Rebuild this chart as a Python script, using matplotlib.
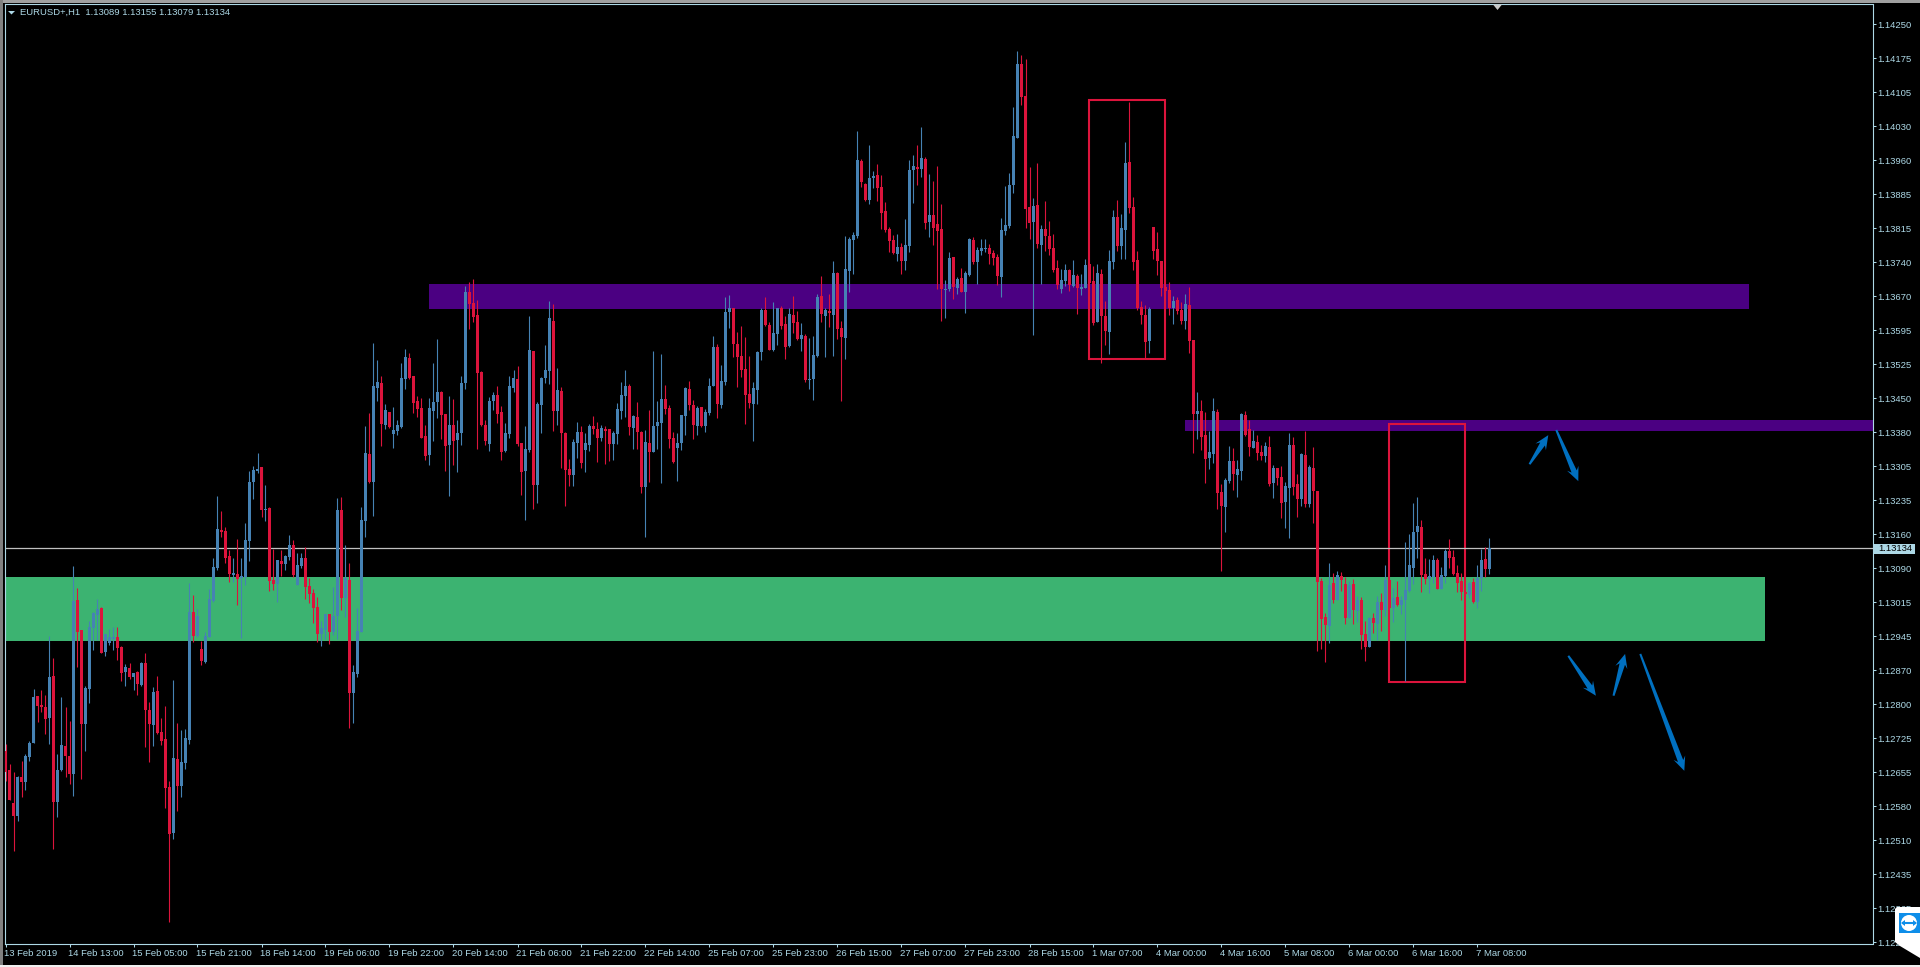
import numpy as np
import matplotlib
matplotlib.use("Agg")
import matplotlib.pyplot as plt
from matplotlib.patches import Rectangle, Polygon, Circle
from matplotlib.transforms import IdentityTransform

# Prices are in points (1e-5) above 1.12000
highs_pts = [
717,675,658,648,681,696,723,834,820,832,
822,947,900,696,817,796,766,1096,1050,960,
841,979,998,1026,1009,952,962,966,966,926,
888,890,868,873,892,911,807,839,862,773,
798,638,854,762,747,749,1060,1035,1005,937,
956,1047,1113,1246,1214,1179,1130,1113,1154,1113,
1188,1299,1309,1337,1307,1269,1222,1133,1109,1130,
1120,1162,1152,1124,1124,1137,1071,1047,1030,979,
994,994,1052,1241,1243,1141,1103,886,1007,1222,
1395,1422,1572,1535,1501,1442,1425,1435,1407,1529,
1559,1550,1501,1459,1454,1397,1454,1529,1580,1469,
1420,1459,1452,1407,1501,1693,1701,1708,1663,1512,
1407,1456,1467,1480,1437,1401,1501,1514,1523,1358,
1395,1629,1554,1446,1499,1567,1661,1655,1518,1478,
1382,1324,1367,1403,1395,1380,1399,1416,1403,1397,
1395,1388,1384,1444,1488,1514,1484,1418,1446,1384,
1386,1429,1554,1448,1548,1482,1439,1382,1380,1418,
1478,1491,1450,1437,1435,1431,1497,1586,1569,1525,
1669,1674,1646,1595,1608,1584,1544,1488,1554,1646,
1669,1616,1659,1646,1650,1629,1646,1672,1640,1614,
1591,1582,1587,1676,1714,1646,1676,1746,1723,1619,
1800,1798,1808,2023,1964,1912,1993,1938,1953,1930,
1872,1819,1802,1804,1785,1836,1962,1972,1993,2032,
1968,1932,1917,1949,1868,1706,1766,1755,1712,1731,
1725,1795,1797,1776,1793,1793,1782,1769,1761,1838,
1906,1933,2074,2193,2185,2176,1946,1880,1955,1823,
1874,1831,1803,1748,1729,1740,1729,1748,1718,1718,
1750,1740,1735,1740,1729,1661,1769,1855,1876,1846,
1999,2085,1882,1767,1661,1652,1648,1818,1808,1746,
1691,1701,1671,1669,1659,1676,1691,1577,1467,1450,
1424,1384,1454,1430,1271,1283,1352,1347,1322,1422,
1426,1407,1386,1375,1354,1360,1373,1311,1305,1309,
1275,1379,1371,1292,1337,1384,1311,1349,1256,1071,
996,1103,1082,1086,1084,1073,1064,1069,1033,1030,
979,988,996,1033,1039,1099,1067,1050,1064,1033,
1148,1165,1231,1243,1194,1113,1111,1120,1113,1094,
1133,1154,1130,1099,1082,1041,1062,1071,1099,1133,
1137,1156]

body_top_pts = [
703,662,592,646,646,692,719,818,820,800,
796,860,862,662,715,713,692,1022,1024,960,
837,966,996,1005,1007,952,945,945,945,924,
881,879,868,871,890,890,790,828,830,743,
728,626,687,685,679,730,998,998,990,920,
947,1026,1094,1175,1173,1171,1118,1082,1079,1075,
1152,1275,1301,1303,1307,1218,1220,1067,1109,1107,
1118,1141,1141,1099,1113,1113,1054,1039,1009,964,
994,994,990,1216,1216,1071,1067,871,958,1194,
1337,1335,1480,1488,1486,1429,1425,1386,1397,1497,
1542,1540,1501,1448,1433,1373,1433,1446,1467,1467,
1420,1397,1397,1380,1486,1680,1680,1657,1631,1510,
1397,1448,1461,1461,1425,1380,1480,1497,1495,1358,
1346,1557,1554,1442,1497,1514,1625,1618,1471,1469,
1380,1303,1361,1382,1382,1358,1395,1395,1388,1390,
1388,1388,1380,1431,1461,1480,1480,1416,1414,1382,
1361,1358,1395,1403,1452,1452,1433,1369,1358,1418,
1476,1474,1439,1433,1435,1425,1480,1563,1563,1491,
1638,1646,1646,1569,1544,1516,1463,1476,1552,1642,
1642,1610,1593,1646,1646,1612,1633,1631,1616,1589,
1587,1495,1546,1670,1672,1642,1640,1721,1721,1604,
1729,1793,1802,1962,1959,1910,1923,1927,1930,1904,
1853,1815,1791,1776,1776,1780,1940,1949,1947,1966,
1964,1844,1844,1825,1815,1687,1753,1755,1708,1710,
1721,1793,1791,1769,1774,1774,1774,1763,1754,1812,
1823,1908,2012,2166,2166,2097,1861,1863,1865,1814,
1814,1799,1774,1731,1706,1727,1727,1716,1714,1691,
1737,1740,1703,1720,1718,1629,1746,1840,1840,1816,
1955,1957,1861,1748,1648,1631,1644,1818,1772,1746,
1691,1684,1661,1663,1642,1654,1652,1577,1426,1426,
1375,1339,1426,1424,1254,1279,1320,1320,1303,1420,
1418,1388,1362,1360,1339,1352,1349,1305,1305,1286,
1266,1354,1354,1271,1335,1332,1307,1305,1256,1064,
988,1056,1060,1077,1075,1058,1056,1058,1024,1024,
952,986,986,1020,1020,1067,1067,1028,1030,1024,
1045,1099,1169,1182,1180,1079,1075,1109,1109,1077,
1128,1128,1116,1082,1064,1041,1060,1062,1071,1109,
1111,1134]

body_bottom_pts = [
658,598,564,564,636,636,690,719,798,796,
771,773,594,594,662,692,653,653,956,760,
760,834,964,992,911,913,932,941,922,868,
871,860,860,845,843,790,760,758,741,724,
624,526,528,628,628,677,726,947,947,894,
891,945,1022,1092,1169,1113,1079,1077,1069,1071,
1073,1150,1275,1299,1216,1216,1064,1058,1058,1101,
1101,1116,1077,1056,1096,1052,1037,1007,952,952,
960,956,956,990,1028,1028,826,826,866,956,
1192,1275,1275,1476,1399,1397,1393,1378,1384,1393,
1495,1497,1444,1431,1369,1331,1333,1427,1446,1418,
1352,1354,1363,1365,1380,1486,1655,1627,1508,1397,
1363,1356,1448,1420,1339,1341,1378,1476,1356,1297,
1299,1344,1269,1269,1439,1497,1512,1427,1427,1380,
1301,1290,1290,1358,1316,1344,1354,1388,1369,1369,
1384,1356,1356,1378,1427,1459,1393,1390,1382,1265,
1265,1339,1339,1395,1401,1431,1367,1318,1348,1358,
1416,1439,1397,1395,1395,1395,1422,1480,1442,1439,
1488,1638,1569,1542,1514,1461,1444,1442,1471,1552,
1610,1557,1557,1591,1608,1563,1565,1614,1580,1580,
1493,1493,1495,1544,1633,1629,1636,1631,1602,1584,
1582,1725,1791,1800,1915,1876,1876,1923,1902,1849,
1812,1789,1763,1761,1746,1746,1778,1940,1942,1942,
1827,1829,1817,1810,1687,1685,1687,1691,1689,1680,
1680,1716,1744,1744,1767,1772,1761,1752,1714,1712,
1810,1821,1908,2008,2095,1857,1827,1829,1782,1780,
1799,1772,1727,1695,1686,1703,1695,1693,1688,1686,
1688,1699,1614,1616,1629,1597,1595,1744,1778,1778,
1812,1859,1744,1646,1631,1573,1576,1767,1746,1688,
1682,1646,1646,1639,1618,1618,1576,1420,1420,1371,
1324,1326,1335,1252,1224,1222,1277,1292,1290,1298,
1375,1349,1347,1337,1330,1330,1271,1273,1283,1230,
1232,1262,1264,1239,1239,1228,1228,1256,1062,984,
971,969,1024,1024,1067,986,986,1003,1001,949,
924,924,975,973,1003,1003,1007,1007,1013,1013,
1024,1043,1092,1169,1077,1069,1069,1073,1047,1047,
1075,1113,1079,1060,1041,1037,1035,1020,1020,1071,
1090,1089]

lows_pts = [
638,598,490,553,604,619,681,719,764,785,
739,717,494,562,660,647,632,607,881,643,
702,805,917,939,911,905,928,917,896,851,
841,856,832,822,841,711,679,713,739,715,
581,338,515,575,604,664,717,935,945,886,
890,945,1020,1088,1158,1103,1062,1062,1013,943,
1056,1107,1239,1294,1201,1192,1043,1045,1020,1075,
1088,1109,1073,1056,1092,1026,1018,975,935,926,
941,930,949,941,1003,988,751,762,860,956,
1158,1273,1203,1448,1352,1388,1390,1348,1376,1390,
1474,1495,1422,1414,1369,1322,1312,1363,1412,1367,
1299,1246,1312,1297,1354,1474,1601,1616,1346,1395,
1354,1341,1429,1401,1322,1339,1369,1467,1352,1248,
1194,1339,1218,1231,1380,1486,1484,1384,1397,1305,
1224,1267,1267,1327,1305,1297,1341,1378,1318,1363,
1314,1320,1322,1356,1410,1414,1376,1346,1346,1252,
1158,1275,1339,1346,1273,1420,1348,1316,1278,1344,
1376,1429,1367,1376,1393,1382,1418,1480,1412,1433,
1482,1603,1542,1478,1499,1399,1433,1363,1442,1535,
1608,1557,1554,1567,1601,1538,1563,1593,1578,1555,
1489,1474,1450,1542,1616,1542,1606,1544,1580,1448,
1538,1680,1719,1795,1904,1874,1868,1902,1874,1815,
1808,1766,1761,1746,1719,1727,1766,1870,1908,1925,
1815,1798,1780,1687,1619,1625,1682,1665,1676,1680,
1636,1714,1740,1697,1759,1765,1740,1737,1695,1669,
1801,1816,1891,2008,2078,1816,1793,1588,1774,1697,
1767,1759,1723,1686,1678,1693,1682,1691,1633,1674,
1688,1699,1610,1616,1529,1567,1548,1729,1767,1750,
1750,1848,1727,1642,1612,1537,1550,1750,1716,1671,
1677,1631,1612,1633,1612,1601,1550,1337,1367,1343,
1273,1303,1315,1217,1085,1168,1273,1258,1243,1279,
1373,1330,1347,1322,1322,1318,1266,1241,1269,1198,
1177,1156,1247,1200,1224,1222,1222,1188,915,920,
892,932,1018,1024,1043,973,986,973,977,920,
894,924,954,939,958,990,1007,977,1011,994,
851,1041,1058,1113,1041,1058,1039,1060,1047,1047,
1060,1092,1077,1041,1024,1037,1028,1018,1007,1043,
1073,1079]

# B = bullish candle, R = bearish candle
directions = (
"RRRBRBBBRR" "RBRBBRRBRR" "BBBBRBBBRR" "BRBRBRRBRR" "RRBRBBBRBR"
"BBBBRRRBRB" "BBBBRBRRBR" "BBRBBRRRRB" "BRBBRBRBBB" "BRBBRBRBBB"
"BRRRRRBBBR" "RBRBBBRRRR" "RBBRRBBBRR" "BBRBBBBRBR" "RRBBRBBRRB"
"RRBBBBRBRR" "BRBBBRRRBB" "BRRBRBBBRB" "BBRRRRRBBB" "RRBBRRBRRB"
"RBBBRBRBRR" "BBBBRRBBRR" "RRRBRBBBRB" "RBRRRBBRBR" "BBRBBBRRRB"
"BBBBRRRBRB" "RRRRBBRBRB" "BRRBRRBBRB" "BRRRRRBRRR" "RRBRRBRRBR"
"RBBRRBBRBB" "RRBRRBRBRR" "BBRRBRBRRR" "RBRBRRBRBR" "RBRBRBRBRB"
"BBBBRRBBRB" "BRRRRRBRBB" "RB")

time_labels = ["13 Feb 2019", "14 Feb 13:00", "15 Feb 05:00", "15 Feb 21:00",
               "18 Feb 14:00", "19 Feb 06:00", "19 Feb 22:00", "20 Feb 14:00",
               "21 Feb 06:00", "21 Feb 22:00", "22 Feb 14:00", "25 Feb 07:00",
               "25 Feb 23:00", "26 Feb 15:00", "27 Feb 07:00", "27 Feb 23:00",
               "28 Feb 15:00", "1 Mar 07:00", "4 Mar 00:00", "4 Mar 16:00",
               "5 Mar 08:00", "6 Mar 00:00", "6 Mar 16:00", "7 Mar 08:00"]
bars_per_label = 16

price_labels = ["1.14250", "1.14175", "1.14105", "1.14030", "1.13960", "1.13885",
                "1.13815", "1.13740", "1.13670", "1.13595", "1.13525", "1.13450",
                "1.13380", "1.13305", "1.13235", "1.13160", "1.13090", "1.13015",
                "1.12945", "1.12870", "1.12800", "1.12725", "1.12655", "1.12580",
                "1.12510", "1.12435", "1.12365", "1.12295"]

last_price = 1.13134
header = "EURUSD+,H1  1.13089 1.13155 1.13079 1.13134"

# (first bar, last bar, low price, high price)
purple_zones = [(105.9, 435.9, 1.13644, 1.13697), (294.9, 467.0, 1.13383, 1.13407)]
green_zones = [(-0.5, 439.9, 1.12937, 1.13073)]
red_boxes = [(270.9, 290.0, 1.13537, 1.14089), (345.9, 364.9, 1.12849, 1.13399)]
# (tail bar, tail price, head bar, head price)
arrows = [(381.0, 1.13313, 385.7, 1.13375), (387.7, 1.13386, 393.2, 1.13277),
          (390.7, 1.12905, 397.6, 1.12820), (402.0, 1.12820, 404.9, 1.12909),
          (408.7, 1.12909, 419.7, 1.12660)]

LB = "#ADD8E6"
BLUE = "#4682B4"
RED = "#DC143C"
W, H = 1920, 967

assert len(highs_pts) == len(lows_pts) == len(body_top_pts) == len(body_bottom_pts) == len(directions) == 372

highs = 1.12 + np.array(highs_pts) / 1e5
lows = 1.12 + np.array(lows_pts) / 1e5
tops = 1.12 + np.array(body_top_pts) / 1e5
bottoms = 1.12 + np.array(body_bottom_pts) / 1e5
up = np.array([c == "B" for c in directions])
opens = np.where(up, bottoms, tops)
closes = np.where(up, tops, bottoms)
bars = np.arange(len(highs))
colors = [BLUE if u else RED for u in up]

plt.rcParams["font.family"] = ["Liberation Sans", "DejaVu Sans"]
fig = plt.figure(figsize=(W / 100, H / 100), dpi=100, facecolor="black")
L, R, T, B = 4.7, 1872.5, 4.3, 944.3
ax = fig.add_axes([L / W, 1 - B / H, (R - L) / W, (B - T) / H], facecolor="black")
ax.set_xlim((L - 5.5) / 4, (R - 5.5) / 4)
ax.set_ylim(1.12 + 290.5 / 1e5, 1.12 + 2292.7 / 1e5)

for x0, x1, y0, y1 in green_zones:
    ax.add_patch(Rectangle((x0, y0), x1 - x0, y1 - y0, color="#3CB371", lw=0, zorder=1))
for x0, x1, y0, y1 in purple_zones:
    ax.add_patch(Rectangle((x0, y0), x1 - x0, y1 - y0, color="#4B0082", lw=0, zorder=1))
for x0, x1, y0, y1 in red_boxes:
    ax.add_patch(Rectangle((x0, y0), x1 - x0, y1 - y0, fill=False, ec=RED, lw=1.5, zorder=2))

ax.axhline(last_price, color="#C0C0C0", lw=0.9, zorder=2.5)
ax.vlines(bars, lows, highs, colors=colors, lw=0.8, zorder=3)
ax.bar(bars, np.abs(closes - opens), bottom=np.minimum(opens, closes), width=0.75,
       color=colors, linewidth=0, antialiased=False, zorder=4)

tick_values = [1.1425 + (1.12295 - 1.1425) * k / 27 for k in range(len(price_labels))]
ax.yaxis.tick_right()
ax.set_yticks(tick_values, price_labels)
ax.set_xticks(bars_per_label * np.arange(len(time_labels)), [""] * len(time_labels))
ax.tick_params(axis="y", colors=LB, length=2.5, width=0.75, labelsize=6.8, pad=1.2)
ax.tick_params(axis="x", colors=LB, length=2.5, width=0.75)
for s in ax.spines.values():
    s.set_color(LB)
    s.set_linewidth(0.8)

for k, lab in enumerate(time_labels):
    x = ax.transData.transform((bars_per_label * k, 0))[0]
    fig.text((x - 1) / W, 1 - 953.7 / H, lab, color=LB, fontsize=6.8, ha="left", va="center")

fig.canvas.draw()
for tx, ty, hx, hy in arrows:
    p0 = ax.transData.transform((tx, ty))
    p1 = ax.transData.transform((hx, hy))
    d = p1 - p0
    length = np.hypot(*d)
    u_vec = d / length
    n_vec = np.array([-u_vec[1], u_vec[0]])
    head = 14.0
    neck = p1 - u_vec * (head * 0.75)
    barb = p1 - u_vec * head
    pts = [p0 + n_vec * 1.0, neck + n_vec * 2.8, barb + n_vec * 6.2, p1,
           barb - n_vec * 6.2, neck - n_vec * 2.8, p0 - n_vec * 1.0]
    ax.add_patch(Polygon(pts, closed=True, color="#0070C0", lw=0, zorder=6,
                         transform=IdentityTransform(), clip_on=False))

# Price tag on the axis
fig.add_artist(Rectangle((1874 / W, 1 - 553.7 / H), 41 / W, 10 / H, color=LB, lw=0,
                         transform=fig.transFigure, zorder=7))
fig.text(1878 / W, 1 - 548.6 / H, f"{last_price:.5f}", color="black", fontsize=6.8,
         ha="left", va="center", zorder=8)

# Header
fig.add_artist(Polygon([(8 / W, 1 - 11 / H), (15 / W, 1 - 11 / H), (11.5 / W, 1 - 14.5 / H)],
                       color=LB, lw=0, transform=fig.transFigure))
fig.text(20 / W, 1 - 12.6 / H, header, color=LB, fontsize=6.8, ha="left", va="center")

# Window edges
for x, y, w, h, c in [(0, 0, 1920, 2.5, "#A0A0A0"), (0, 0, 3, 965, "#808080"),
                      (0, 965, 1920, 2, "#F0F0F0")]:
    fig.add_artist(Rectangle((x / W, 1 - (y + h) / H), w / W, h / H, color=c, lw=0,
                             transform=fig.transFigure, zorder=9))
# Chart-shift marker
fig.add_artist(Polygon([(1493 / W, 1 - 4.5 / H), (1502 / W, 1 - 4.5 / H), (1497.5 / W, 1 - 10 / H)],
                       color="#C8C8C8", lw=0, transform=fig.transFigure, zorder=10))

# Remote-control widget at the corner
disp = lambda x, y: (x, H - y)
fig.add_artist(Polygon([disp(1897, 907), disp(1920, 907), disp(1920, 958), disp(1900, 946), disp(1895, 942), disp(1895, 909)],
                       color="white", lw=0, transform=IdentityTransform(), zorder=10))
fig.add_artist(Rectangle(disp(1899, 933), 21, 20, color="#0E8EE9", lw=0,
                         transform=IdentityTransform(), zorder=11))
fig.add_artist(Circle(disp(1909, 923), 8, color="white", lw=0,
                      transform=IdentityTransform(), zorder=12))
icon = plt.Line2D([1903, 1915], [H - 923, H - 923], color="#0E8EE9", lw=1.5,
                  transform=IdentityTransform(), zorder=13)
fig.add_artist(icon)
fig.add_artist(Polygon([disp(1901, 923), disp(1905, 920), disp(1905, 926)], color="#0E8EE9", lw=0,
                       transform=IdentityTransform(), zorder=13))
fig.add_artist(Polygon([disp(1917, 923), disp(1913, 920), disp(1913, 926)], color="#0E8EE9", lw=0,
                       transform=IdentityTransform(), zorder=13))

fig.savefig("out.png", dpi=100, facecolor="black")
